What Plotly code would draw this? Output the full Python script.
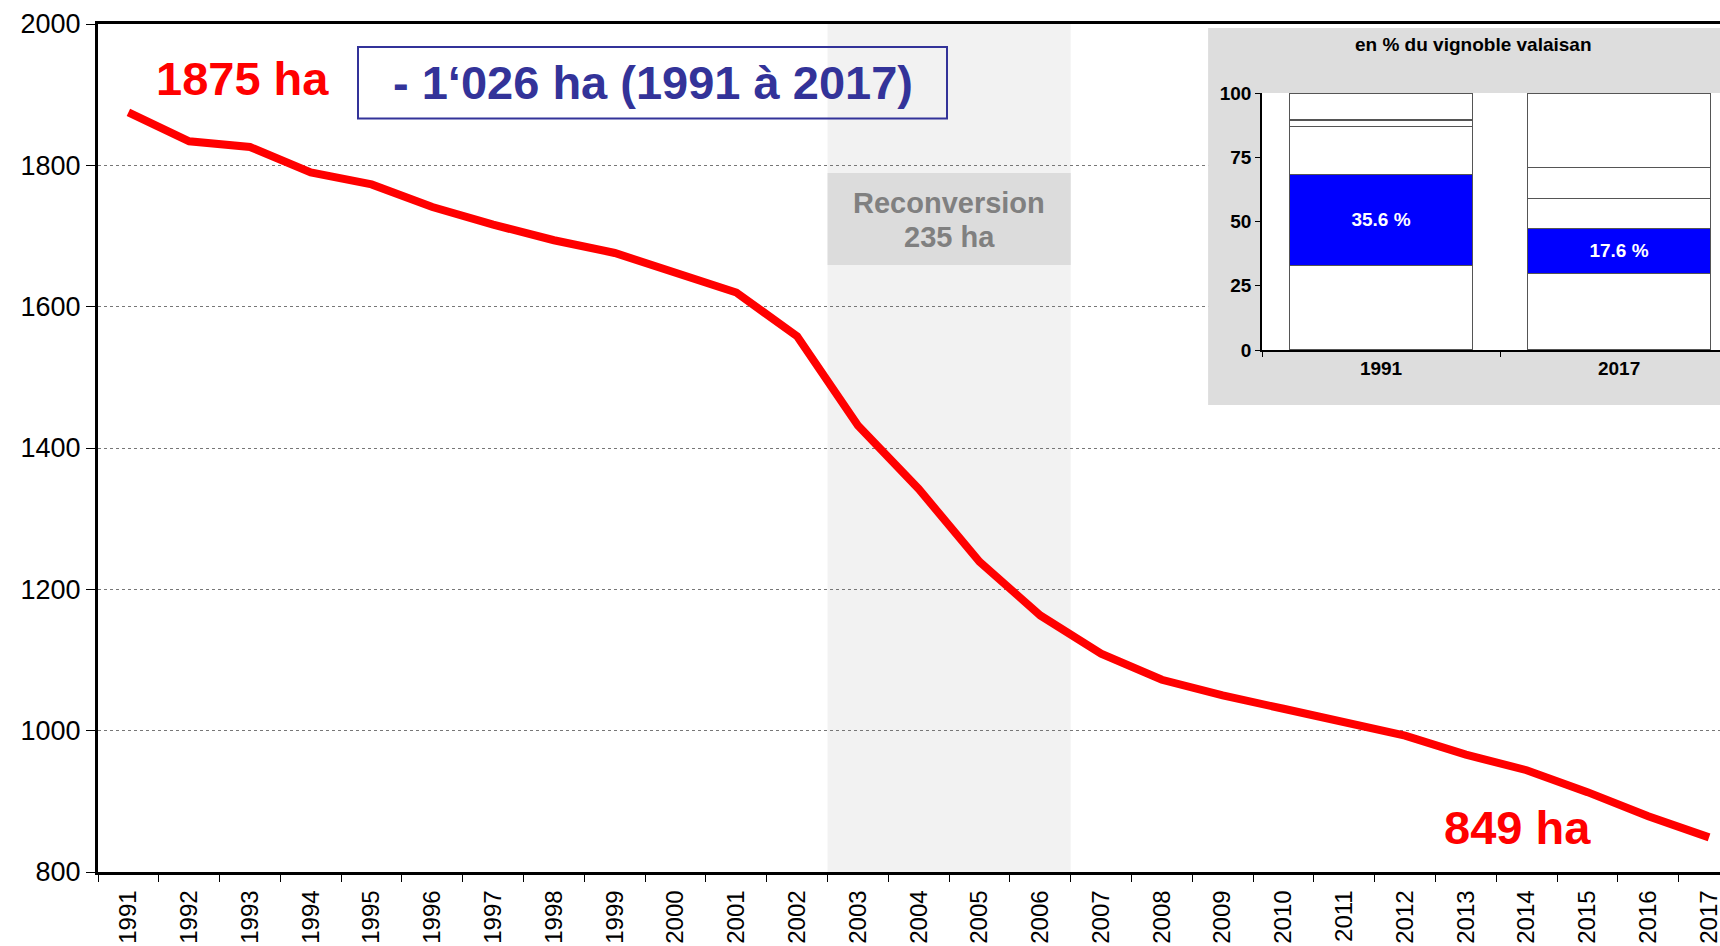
import plotly.graph_objects as go

# ---- data ----
years = [str(y) for y in range(1991, 2018)]
hectares = [1875, 1834, 1826, 1790, 1773, 1741, 1716, 1694, 1676, 1648,
            1620, 1558, 1432, 1342, 1239, 1163, 1109, 1072, 1050, 1031,
            1013, 993, 966, 944, 913, 879, 849]

inset_years = ["1991", "2017"]
seg1 = [32.8, 29.8]
seg2_blue = [35.6, 17.6]
seg3 = [18.6, 11.5]
seg4 = [2.5, 12.1]
seg5 = [10.5, 29.0]
blue_labels = ["35.6 %", "17.6 %"]

y_ticks = [800, 1000, 1200, 1400, 1600, 1800, 2000]
inset_ticks = [0, 25, 50, 75, 100]

FONT = "Liberation Sans, Arial, sans-serif"
W, H = 1720, 946
L, R, T, B = 98, 0, 24, 74
PW, PH = W - L - R, H - T - B


def px(xp):
    return (xp - L) / PW


def py(yp):
    return (H - B - yp) / PH


fig = go.Figure()

# main line
fig.add_trace(go.Scatter(
    x=years, y=hectares, mode="lines",
    line=dict(color="#ff0000", width=8),
    xaxis="x", yaxis="y", showlegend=False, hoverinfo="x+y"))

# inset stacked bars
for vals, col, txt in [(seg1, "white", None), (seg2_blue, "#0000ff", blue_labels),
                       (seg3, "white", None), (seg4, "white", None), (seg5, "white", None)]:
    fig.add_trace(go.Bar(
        x=inset_years, y=vals, xaxis="x2", yaxis="y2",
        marker=dict(color=col, line=dict(color="#555555", width=1.2)),
        width=0.77, showlegend=False,
        text=txt, textposition="inside" if txt else None,
        insidetextanchor="middle",
        textfont=dict(family=FONT, size=19, color="white", weight="bold"),
    ))

shapes = [
    # reconversion band
    dict(type="rect", xref="x", yref="y", x0=11.5, x1=15.5, y0=800, y1=2000,
         fillcolor="#f2f2f2", line=dict(width=0), layer="below"),
    # reconversion label box
    dict(type="rect", xref="x", yref="y", x0=11.5, x1=15.5, y0=1659, y1=1789,
         fillcolor="#dcdcdc", line=dict(width=0), layer="between"),
    # inset grey background
    dict(type="rect", xref="x", yref="y", x0=17.76, x1=27, y0=1461, y1=1994.3,
         fillcolor="#dddddd", line=dict(width=0), layer="between"),
    # summary box
    dict(type="rect", xref="paper", yref="paper", x0=px(358), x1=px(947),
         y0=py(118.5), y1=py(47), fillcolor="rgba(0,0,0,0)",
         line=dict(color="#333399", width=2), layer="above"),
]


def ann(text, x, y, size, color, xref="paper"):
    return dict(text=text, x=x, y=y, xref=xref, yref="paper", showarrow=False,
                xanchor="center", yanchor="middle",
                font=dict(family=FONT, size=size, color=color))


annotations = [
    ann("<b>1875 ha</b>", px(242), py(78.5), 47, "#ff0000"),
    ann("<b>849 ha</b>", px(1517), py(827.5), 47, "#ff0000"),
    ann("<b>- 1‘026 ha (1991 à 2017)</b>", px(652.5), py(83), 47, "#333399"),
    ann("<b>Reconversion</b>", 13.5, py(203), 29, "#808080", xref="x"),
    ann("<b>235 ha</b>", 13.5, py(237), 29, "#808080", xref="x"),
    ann("<b>en % du vignoble valaisan</b>", px(1473), py(44), 19, "black"),
]

fig.update_layout(
    width=W, height=H,
    margin=dict(l=L, r=R, t=T, b=B, pad=0, autoexpand=False),
    paper_bgcolor="white", plot_bgcolor="white",
    barmode="stack", bargap=0.23,
    font=dict(family=FONT, color="black"),
    shapes=shapes, annotations=annotations,
    xaxis=dict(
        type="category", range=[-0.5, 26.18], domain=[0, 1], automargin=False,
        tickson="boundaries", ticks="outside", ticklen=7, tickcolor="black",
        tickwidth=1, tickangle=-90, tickfont=dict(family=FONT, size=24, color="black"),
        ticklabelstandoff=6,
        showline=True, linecolor="black", linewidth=2.5, mirror=True,
        showgrid=False, zeroline=False, anchor="y",
    ),
    yaxis=dict(
        range=[800, 2000], tickvals=y_ticks, domain=[0, 1], automargin=False,
        ticks="outside", ticklen=9, tickcolor="black", tickwidth=1,
        tickfont=dict(family=FONT, size=27, color="black"),
        showline=True, linecolor="black", linewidth=3,
        showgrid=True, gridcolor="#777777", griddash="dot", gridwidth=1,
        zeroline=False, anchor="x",
    ),
    xaxis2=dict(
        type="category", range=[-0.5, 1.424], domain=[px(1262), 1.0],
        anchor="y2", automargin=False, tickson="boundaries", ticks="outside",
        ticklen=5, tickcolor="black", tickwidth=1,
        tickfont=dict(family=FONT, size=19, color="black", weight="bold"),
        showline=True, linecolor="black", linewidth=1.5,
        showgrid=False, zeroline=False,
    ),
    yaxis2=dict(
        range=[0, 100], tickvals=inset_ticks, domain=[py(350), py(93)],
        anchor="x2", automargin=False, ticks="outside", ticklen=5,
        tickcolor="black", tickwidth=1,
        tickfont=dict(family=FONT, size=19, color="black", weight="bold"),
        showline=True, linecolor="black", linewidth=1.5,
        showgrid=False, zeroline=False,
    ),
)

fig.write_html(
    "out.html",
    config={"displayModeBar": False},
    post_script="document.body.style.margin='0';document.body.style.overflow='hidden';",
)
